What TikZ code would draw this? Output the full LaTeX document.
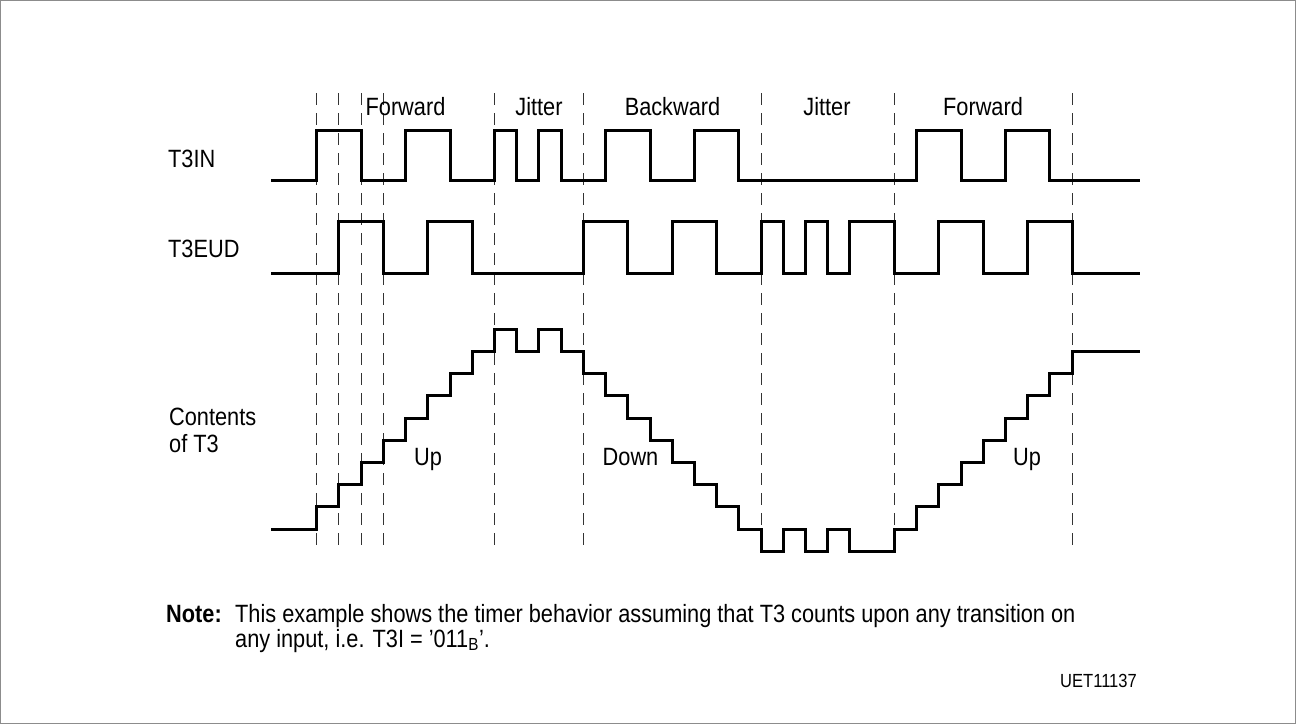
\documentclass[tikz,border=0pt]{standalone}
\usepackage{fontspec}
\setmainfont{Liberation Sans}[FakeStretch=0.87]
\begin{document}
\begin{tikzpicture}[x=1pt,y=-1pt,
  wave/.style={line width=3pt, line join=miter, line cap=rect},
  gridline/.style={line width=0.9pt, dash pattern=on 12pt off 8pt, black!80},
  lbl/.style={font=\fontsize{25}{28}\selectfont, inner sep=0pt},
  small/.style={font=\fontsize{19}{22}\selectfont, inner sep=0pt}]
\useasboundingbox (0,0) rectangle (1296,724);
\draw[black!45, line width=1pt] (0.5,0.5) rectangle (1295.5,723.5);

% dashed time markers
\foreach \i in {0,1,2,3,8,12,20,26,34}
  \draw[gridline] ({316.7+22.22*\i},93) -- ({316.7+22.22*\i},552);

\begin{scope}[xshift=316.7pt, x=22.22pt]
  % T3IN
  \draw[wave] (-2,180) -| (0,130) -| (2,180) -| (4,130) -| (6,180) -| (8,130)
    -| (9,180) -| (10,130) -| (11,180) -| (13,130) -| (15,180) -| (17,130)
    -| (19,180) -| (27,130) -| (29,180) -| (31,130) -| (33,180) -- (37,180);
  % T3EUD
  \draw[wave] (-2,273.3) -| (1,221.7) -| (3,273.3) -| (5,221.7) -| (7,273.3)
    -| (12,221.7) -| (14,273.3) -| (16,221.7) -| (18,273.3) -| (20,221.7)
    -| (21,273.3) -| (22,221.7) -| (23,273.3) -| (24,221.7) -| (26,273.3)
    -| (28,221.7) -| (30,273.3) -| (32,221.7) -| (34,273.3) -- (37,273.3);
  % Contents of T3
  \draw[wave] (-2,529) -| (0,506.8) -| (1,484.6) -| (2,462.4) -| (3,440.2)
    -| (4,418) -| (5,395.8) -| (6,373.6) -| (7,351.4) -| (8,329.2)
    -| (9,351.4) -| (10,329.2) -| (11,351.4) -| (12,373.6) -| (13,395.8)
    -| (14,418) -| (15,440.2) -| (16,462.4) -| (17,484.6) -| (18,506.8)
    -| (19,529) -| (20,551.2) -| (21,529) -| (22,551.2) -| (23,529)
    -| (24,551.2) -| (26,529) -| (27,506.8) -| (28,484.6) -| (29,462.4)
    -| (30,440.2) -| (31,418) -| (32,395.8) -| (33,373.6) -| (34,351.4)
    -- (37,351.4);
\end{scope}

% signal names
\node[lbl, anchor=base west] (t3in) at (168,167.3) {T3IN};
\node[lbl, anchor=base west] (t3eud) at (168,257.3) {T3EUD};
\node[lbl, anchor=base west] (cont1) at (169,425) {Contents};
\node[lbl, anchor=base west] (cont2) at (169,452.7) {of T3};

% phase labels
\node[lbl, anchor=base] (fw1) at (405.5,115) {Forward};
\node[lbl, anchor=base] (j1) at (539,115) {Jitter};
\node[lbl, anchor=base] (bw) at (672.5,115) {Backward};
\node[lbl, anchor=base] (j2) at (827,115) {Jitter};
\node[lbl, anchor=base] (fw2) at (983,115) {Forward};

% direction labels
\node[lbl, anchor=base] (up1) at (428,465.7) {Up};
\node[lbl, anchor=base] (down) at (630.5,465.7) {Down};
\node[lbl, anchor=base] (up2) at (1027,465.7) {Up};

% note
\node[lbl, anchor=base west, font=\fontsize{25}{28}\selectfont\bfseries] (note) at (166,622) {Note:};
\node[lbl, anchor=base west] (l1) at (235,622) {This example shows the timer behavior assuming that T3 counts upon any transition on};
\node[lbl, anchor=base west] (l2) at (235,647) {any input, i.e. T3I = '011\textsubscript{B}'.};
\node[small, anchor=base east] (uet) at (1137,687) {UET11137};
\end{tikzpicture}
\end{document}
